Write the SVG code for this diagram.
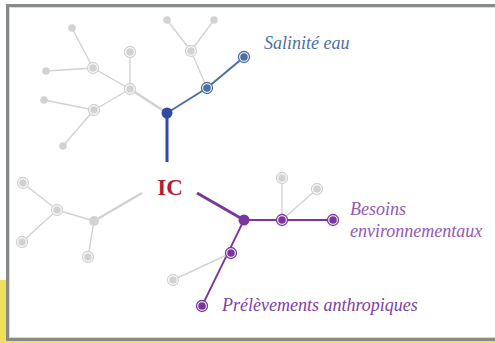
<svg xmlns="http://www.w3.org/2000/svg" width="495" height="343" viewBox="0 0 495 343">
<style>
.g{stroke:#d2d2d2;stroke-width:1.4;fill:none;stroke-linecap:round}
.gt{stroke:#d2d2d2;stroke-width:2.6;fill:none}
.b{stroke:#4a6ea6;stroke-width:2;fill:none}
.bt{stroke:#2f4ca0;stroke-width:3;fill:none}
.p{stroke:#7a35a0;stroke-width:1.8;fill:none}
.pt{stroke:#7a35a0;stroke-width:3;fill:none}
.dg{fill:#d2d2d2}
.rg{fill:#fff;stroke:#d2d2d2;stroke-width:1.3}
.rb{fill:#fff;stroke:#4a6ea6;stroke-width:1.3}
.rp{fill:#fff;stroke:#7a35a0;stroke-width:1.3}
</style>
<rect x="0" y="280" width="8" height="63" fill="#ede05a"/>
<rect x="0" y="339" width="495" height="4" fill="#ede05a"/>
<rect x="7.5" y="5.5" width="500" height="334" fill="#fff" stroke="#868b88" stroke-width="3"/>
<rect x="9.5" y="7.5" width="500" height="330" fill="none" stroke="#d8dad8" stroke-width="1"/>
<g id="connectors">
<line class="gt" x1="167" y1="113" x2="130" y2="89"/>
<line class="g" x1="130" y1="89" x2="130" y2="52"/>
<line class="g" x1="130" y1="89" x2="93" y2="68"/>
<line class="g" x1="93" y1="68" x2="72" y2="28"/>
<line class="g" x1="93" y1="68" x2="46" y2="71"/>
<line class="g" x1="130" y1="89" x2="94" y2="110"/>
<line class="g" x1="94" y1="110" x2="44" y2="100"/>
<line class="g" x1="94" y1="110" x2="63" y2="146"/>
<line class="g" x1="207" y1="88" x2="191" y2="51"/>
<line class="g" x1="191" y1="51" x2="167" y2="20"/>
<line class="g" x1="191" y1="51" x2="214" y2="20"/>
<line class="bt" x1="167" y1="113" x2="167" y2="162"/>
<line class="b" x1="167" y1="113" x2="207" y2="88"/>
<line class="b" x1="207" y1="88" x2="244" y2="57"/>
<line class="gt" x1="142" y1="193" x2="94" y2="221"/>
<line class="g" x1="94" y1="221" x2="57" y2="210"/>
<line class="g" x1="57" y1="210" x2="23" y2="183"/>
<line class="g" x1="57" y1="210" x2="22" y2="242"/>
<line class="g" x1="94" y1="221" x2="88" y2="257"/>
<line class="pt" x1="197" y1="193" x2="244" y2="220"/>
<line class="p" x1="244" y1="220" x2="333" y2="220"/>
<line class="p" x1="244" y1="220" x2="202" y2="306"/>
<line class="g" x1="282" y1="220" x2="282" y2="178"/>
<line class="g" x1="282" y1="220" x2="317" y2="189"/>
<line class="g" x1="231" y1="253" x2="173" y2="280"/>
</g>
<g id="n-dots">
<circle class="dg" cx="72" cy="28" r="3.8"/>
<circle class="dg" cx="46" cy="71" r="3.8"/>
<circle class="dg" cx="44" cy="100" r="3.8"/>
<circle class="dg" cx="63" cy="146" r="3.8"/>
<circle class="dg" cx="167" cy="20" r="3.8"/>
<circle class="dg" cx="214" cy="20" r="3.8"/>
<circle class="dg" cx="94" cy="221" r="5"/>
</g>
<g id="n-gray-rings">
<circle class="rg" cx="130" cy="52" r="5.5"/><circle class="dg" cx="130" cy="52" r="3.8"/>
<circle class="rg" cx="130" cy="89" r="5.5"/><circle class="dg" cx="130" cy="89" r="3.8"/>
<circle class="rg" cx="93" cy="68" r="5.5"/><circle class="dg" cx="93" cy="68" r="3.8"/>
<circle class="rg" cx="94" cy="110" r="5.5"/><circle class="dg" cx="94" cy="110" r="3.8"/>
<circle class="rg" cx="191" cy="51" r="5.5"/><circle class="dg" cx="191" cy="51" r="3.8"/>
<circle class="rg" cx="57" cy="210" r="5.5"/><circle class="dg" cx="57" cy="210" r="3.8"/>
<circle class="rg" cx="23" cy="183" r="5.5"/><circle class="dg" cx="23" cy="183" r="3.8"/>
<circle class="rg" cx="22" cy="242" r="5.5"/><circle class="dg" cx="22" cy="242" r="3.8"/>
<circle class="rg" cx="88" cy="257" r="5.5"/><circle class="dg" cx="88" cy="257" r="3.8"/>
<circle class="rg" cx="282" cy="178" r="5.5"/><circle class="dg" cx="282" cy="178" r="3.8"/>
<circle class="rg" cx="317" cy="189" r="5.5"/><circle class="dg" cx="317" cy="189" r="3.8"/>
<circle class="rg" cx="173" cy="280" r="5.5"/><circle class="dg" cx="173" cy="280" r="3.8"/>
</g>
<g id="n-salinite">
<circle cx="167" cy="113" r="5.5" fill="#2f4ca0"/>
<circle class="rb" cx="207" cy="88" r="5.5"/><circle cx="207" cy="88" r="3.8" fill="#4a6ea6"/>
<circle class="rb" cx="244" cy="57" r="5.5"/><circle cx="244" cy="57" r="3.8" fill="#4a6ea6"/>
<text x="264" y="49" font-family="'Liberation Serif', serif" font-style="italic" font-size="18" fill="#4e6fa3">Salinité eau</text>
</g>
<g id="n-ic">
<text x="170" y="195" text-anchor="middle" font-family="'Liberation Serif', serif" font-weight="bold" font-size="23" fill="#b51d2f">IC</text>
</g>
<g id="n-besoins">
<circle cx="244" cy="220" r="5.5" fill="#7a35a0"/>
<circle class="rp" cx="282" cy="220" r="5.5"/><circle cx="282" cy="220" r="3.8" fill="#7a35a0"/>
<circle class="rp" cx="333" cy="220" r="5.5"/><circle cx="333" cy="220" r="3.8" fill="#7a35a0"/>
<text x="350" y="215" font-family="'Liberation Serif', serif" font-style="italic" font-size="18" fill="#9557b5">Besoins</text>
<text x="350" y="237" font-family="'Liberation Serif', serif" font-style="italic" font-size="18" fill="#9557b5">environnementaux</text>
</g>
<g id="n-prelevements">
<circle class="rp" cx="231" cy="253" r="5.5"/><circle cx="231" cy="253" r="3.8" fill="#7a35a0"/>
<circle class="rp" cx="202" cy="306" r="5.5"/><circle cx="202" cy="306" r="3.8" fill="#7a35a0"/>
<text x="222" y="311" font-family="'Liberation Serif', serif" font-style="italic" font-size="18" fill="#7f3ea6">Prélèvements anthropiques</text>
</g>
</svg>
